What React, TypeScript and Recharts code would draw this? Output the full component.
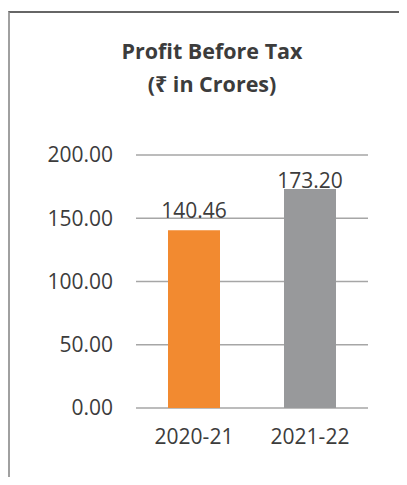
import { BarChart, Bar, XAxis, YAxis, CartesianGrid, Cell, LabelList } from 'recharts';

const years = ['2020-21', '2021-22'];
const profitBeforeTax = [140.46, 173.2];
const yTicks = [0, 50, 100, 150, 200];
const titleLines = ['Profit Before Tax', '(₹ in Crores)'];

const barColors = ['#F28A30', '#98999B'];
const textColor = '#3c3c3c';
const font = '"Open Sans", "Noto Sans", "DejaVu Sans", sans-serif';

const data = years.map((year, i) => ({ year, value: profitBeforeTax[i] }));

// the first label sits a bit higher above its bar than the second one in the original
const labelLift = [12, 1];

const ValueLabel = (props: any) => {
  const { x, y, width, value, index } = props;
  return (
    <text
      x={x + width / 2}
      y={y - labelLift[index]}
      textAnchor="middle"
      fill={textColor}
      fontSize={21}
      fontFamily={font}
    >
      {Number(value).toFixed(2)}
    </text>
  );
};

const App = () => {
  return (
    <div
      style={{
        position: 'relative',
        width: 407,
        height: 485,
        margin: -8,
        overflow: 'hidden',
        background: '#fff',
      }}
    >
      <div
        style={{
          position: 'absolute',
          left: 8,
          top: 11,
          width: 420,
          height: 500,
          borderTop: '2px solid #666',
          borderLeft: '2px solid #a0a0a0',
        }}
      />
      <svg width={407} height={120} style={{ position: 'absolute', left: 0, top: 0 }}>
        {titleLines.map((line, i) => (
          <text
            key={line}
            x={212}
            y={59 + i * 33}
            textAnchor="middle"
            fill={textColor}
            fontSize={21.5}
            fontWeight="bold"
            fontFamily={font}
          >
            {line}
          </text>
        ))}
      </svg>
      <div style={{ position: 'absolute', left: 0, top: 0 }}>
        <BarChart
          width={407}
          height={485}
          data={data}
          margin={{ top: 155, right: 39, bottom: 37, left: 8 }}
        >
          <CartesianGrid vertical={false} stroke="#a6a6a6" strokeWidth={1.5} />
          <XAxis
            dataKey="year"
            height={40}
            axisLine={false}
            tickLine={false}
            tickSize={0}
            tickMargin={21}
            tick={{ fill: textColor, fontSize: 21, fontFamily: font }}
          />
          <YAxis
            width={128}
            domain={[0, 200]}
            ticks={yTicks}
            axisLine={false}
            tickLine={false}
            tickSize={0}
            tickMargin={23}
            tickFormatter={(v: number) => v.toFixed(2)}
            tick={{ fill: textColor, fontSize: 21, fontFamily: font }}
          />
          <Bar dataKey="value" barSize={52} isAnimationActive={false}>
            {data.map((d, i) => (
              <Cell key={d.year} fill={barColors[i]} />
            ))}
            <LabelList dataKey="value" content={ValueLabel} />
          </Bar>
        </BarChart>
      </div>
    </div>
  );
};

export default App;
